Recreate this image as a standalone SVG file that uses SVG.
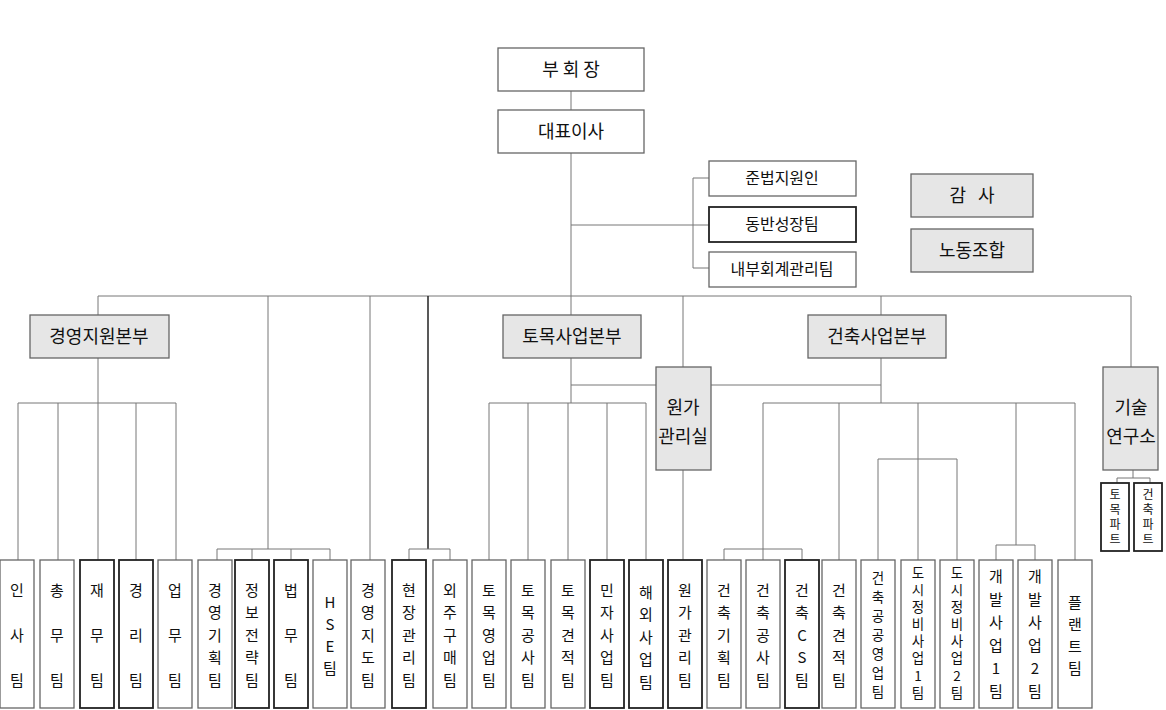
<svg xmlns="http://www.w3.org/2000/svg" width="1166" height="710" viewBox="0 0 1166 710">
<style>
.b{fill:#fff;stroke:#666;stroke-width:1.3}
.k{fill:#fff;stroke:#222;stroke-width:1.8}
.g{fill:#e6e6e6;stroke:#666;stroke-width:1.3}
text{font-family:"Noto Sans CJK KR","Noto Sans",sans-serif;font-size:15px;fill:#111;text-anchor:middle}
.l{font-size:18px}
.m{font-size:16px}
.s{font-size:12px}
.n{font-size:13.5px}
#c line,#c polyline{stroke:#777;stroke-width:1;fill:none}
</style>
<rect width="1166" height="710" fill="#fff"/>
<g id="c">
<line x1="571" y1="91" x2="571" y2="110"/>
<line x1="571" y1="153" x2="571" y2="296"/>
<line x1="571" y1="225" x2="693" y2="225"/>
<polyline points="709,178 693,178 693,268 709,268"/>
<line x1="693" y1="225" x2="709" y2="225"/>
<line x1="98" y1="296" x2="1131" y2="296"/>
<line x1="98" y1="296" x2="98" y2="315"/>
<line x1="268" y1="296" x2="268" y2="549"/>
<line x1="370" y1="296" x2="370" y2="560"/>
<line x1="428" y1="296" x2="428" y2="549" style="stroke:#222;stroke-width:1.5"/>
<line x1="571" y1="296" x2="571" y2="315"/>
<line x1="683" y1="296" x2="683" y2="367"/>
<line x1="881" y1="296" x2="881" y2="315"/>
<line x1="1131" y1="296" x2="1131" y2="367"/>
<line x1="98" y1="358" x2="98" y2="403"/>
<line x1="18" y1="403" x2="176" y2="403"/>
<line x1="18" y1="403" x2="18" y2="560"/><line x1="58" y1="403" x2="58" y2="560"/><line x1="98" y1="403" x2="98" y2="560"/><line x1="136" y1="403" x2="136" y2="560"/><line x1="176" y1="403" x2="176" y2="560"/>
<line x1="217" y1="549" x2="330" y2="549"/>
<line x1="217" y1="549" x2="217" y2="560"/><line x1="252" y1="549" x2="252" y2="560"/><line x1="291" y1="549" x2="291" y2="560"/><line x1="330" y1="549" x2="330" y2="560"/>
<line x1="409" y1="549" x2="450" y2="549"/>
<line x1="409" y1="549" x2="409" y2="560"/><line x1="450" y1="549" x2="450" y2="560"/>
<line x1="571" y1="358" x2="571" y2="403"/>
<line x1="571" y1="385" x2="881" y2="385"/>
<line x1="489" y1="403" x2="646" y2="403"/>
<line x1="489" y1="403" x2="489" y2="560"/><line x1="528" y1="403" x2="528" y2="560"/><line x1="568" y1="403" x2="568" y2="560"/><line x1="607" y1="403" x2="607" y2="560"/><line x1="646" y1="403" x2="646" y2="560"/>
<line x1="683" y1="470" x2="683" y2="560"/>
<line x1="881" y1="358" x2="881" y2="403"/>
<line x1="763" y1="403" x2="1075" y2="403"/>
<line x1="763" y1="403" x2="763" y2="549"/>
<line x1="724" y1="549" x2="802" y2="549"/>
<line x1="724" y1="549" x2="724" y2="560"/><line x1="763" y1="549" x2="763" y2="560"/><line x1="802" y1="549" x2="802" y2="560"/>
<line x1="839" y1="403" x2="839" y2="560"/>
<line x1="918" y1="403" x2="918" y2="560"/>
<line x1="878" y1="459" x2="957" y2="459"/>
<line x1="878" y1="459" x2="878" y2="560"/><line x1="957" y1="459" x2="957" y2="560"/>
<line x1="1016" y1="403" x2="1016" y2="545"/>
<line x1="996" y1="545" x2="1035" y2="545"/>
<line x1="996" y1="545" x2="996" y2="560"/><line x1="1035" y1="545" x2="1035" y2="560"/>
<line x1="1075" y1="403" x2="1075" y2="560"/>
<line x1="1133" y1="470" x2="1133" y2="478"/>
<line x1="1117" y1="478" x2="1150" y2="478"/>
<line x1="1117" y1="478" x2="1117" y2="483"/><line x1="1150" y1="478" x2="1150" y2="483"/>
</g>
<g id="vp"><rect class="b" x="498" y="48" width="146" height="43"/><text class="l" x="571" y="76">부 회 장</text></g>
<g id="ceo"><rect class="b" x="498" y="110" width="146" height="43"/><text class="l" x="571" y="138">대표이사</text></g>
<g id="s1"><rect class="b" x="709" y="161" width="147" height="35"/><text class="m" x="782" y="184">준법지원인</text></g>
<g id="s2"><rect class="k" x="709" y="207" width="147" height="35"/><text class="m" x="782" y="230">동반성장팀</text></g>
<g id="s3"><rect class="b" x="709" y="252" width="147" height="35"/><text class="m" x="782" y="275">내부회계관리팀</text></g>
<g id="audit"><rect class="g" x="911" y="174" width="122" height="43"/><text class="l" x="972" y="202">감 &#160; 사</text></g>
<g id="union"><rect class="g" x="911" y="229" width="122" height="43"/><text class="l" x="972" y="257">노동조합</text></g>
<g id="d1"><rect class="g" x="30" y="315" width="139" height="43"/><text class="l" x="99" y="343">경영지원본부</text></g>
<g id="d2"><rect class="g" x="503" y="315" width="138" height="43"/><text class="l" x="572" y="343">토목사업본부</text></g>
<g id="d3"><rect class="g" x="808" y="315" width="138" height="43"/><text class="l" x="877" y="343">건축사업본부</text></g>
<g id="cost"><rect class="g" x="656" y="367" width="55" height="103"/><text x="683" y="414" class="l"><tspan x="683">원가</tspan><tspan x="683" y="443">관리실</tspan></text></g>
<g id="lab"><rect class="g" x="1103" y="367" width="55" height="103"/><text x="1131" y="414" class="l"><tspan x="1131">기술</tspan><tspan x="1131" y="443">연구소</tspan></text></g>
<g id="p1"><rect class="k" x="1101" y="483" width="28" height="68"/><text class="s" x="1115" y="499"><tspan x="1115">토</tspan><tspan x="1115" y="514">목</tspan><tspan x="1115" y="529">파</tspan><tspan x="1115" y="544">트</tspan></text></g>
<g id="p2"><rect class="k" x="1134" y="483" width="28" height="68"/><text class="s" x="1148" y="499"><tspan x="1148">건</tspan><tspan x="1148" y="514">축</tspan><tspan x="1148" y="529">파</tspan><tspan x="1148" y="544">트</tspan></text></g>
<g id="t1"><rect class="b" x="0" y="560" width="34" height="148"/><text><tspan x="17" y="596">인</tspan><tspan x="17" y="641">사</tspan><tspan x="17" y="686">팀</tspan></text></g>
<g id="t2"><rect class="b" x="40" y="560" width="34" height="148"/><text><tspan x="57" y="596">총</tspan><tspan x="57" y="641">무</tspan><tspan x="57" y="686">팀</tspan></text></g>
<g id="t3"><rect class="k" x="80" y="560" width="34" height="148"/><text><tspan x="97" y="596">재</tspan><tspan x="97" y="641">무</tspan><tspan x="97" y="686">팀</tspan></text></g>
<g id="t4"><rect class="k" x="119" y="560" width="34" height="148"/><text><tspan x="136" y="596">경</tspan><tspan x="136" y="641">리</tspan><tspan x="136" y="686">팀</tspan></text></g>
<g id="t5"><rect class="b" x="158" y="560" width="34" height="148"/><text><tspan x="175" y="596">업</tspan><tspan x="175" y="641">무</tspan><tspan x="175" y="686">팀</tspan></text></g>
<g id="t6"><rect class="b" x="198" y="560" width="34" height="148"/><text><tspan x="215" y="596">경</tspan><tspan x="215" y="618">영</tspan><tspan x="215" y="641">기</tspan><tspan x="215" y="663">획</tspan><tspan x="215" y="686">팀</tspan></text></g>
<g id="t7"><rect class="k" x="235" y="560" width="34" height="148"/><text><tspan x="252" y="596">정</tspan><tspan x="252" y="618">보</tspan><tspan x="252" y="641">전</tspan><tspan x="252" y="663">략</tspan><tspan x="252" y="686">팀</tspan></text></g>
<g id="t8"><rect class="k" x="274" y="560" width="34" height="148"/><text><tspan x="291" y="596">법</tspan><tspan x="291" y="641">무</tspan><tspan x="291" y="686">팀</tspan></text></g>
<g id="t9"><rect class="b" x="313" y="560" width="34" height="148"/><text><tspan x="330" y="608">H</tspan><tspan x="330" y="630">S</tspan><tspan x="330" y="652">E</tspan><tspan x="330" y="674">팀</tspan></text></g>
<g id="t10"><rect class="b" x="351" y="560" width="34" height="148"/><text><tspan x="368" y="596">경</tspan><tspan x="368" y="618">영</tspan><tspan x="368" y="641">지</tspan><tspan x="368" y="663">도</tspan><tspan x="368" y="686">팀</tspan></text></g>
<g id="t11"><rect class="k" x="392" y="560" width="34" height="148"/><text><tspan x="409" y="596">현</tspan><tspan x="409" y="618">장</tspan><tspan x="409" y="641">관</tspan><tspan x="409" y="663">리</tspan><tspan x="409" y="686">팀</tspan></text></g>
<g id="t12"><rect class="b" x="433" y="560" width="34" height="148"/><text><tspan x="450" y="596">외</tspan><tspan x="450" y="618">주</tspan><tspan x="450" y="641">구</tspan><tspan x="450" y="663">매</tspan><tspan x="450" y="686">팀</tspan></text></g>
<g id="t13"><rect class="b" x="472" y="560" width="34" height="148"/><text><tspan x="489" y="596">토</tspan><tspan x="489" y="618">목</tspan><tspan x="489" y="641">영</tspan><tspan x="489" y="663">업</tspan><tspan x="489" y="686">팀</tspan></text></g>
<g id="t14"><rect class="b" x="511" y="560" width="34" height="148"/><text><tspan x="528" y="596">토</tspan><tspan x="528" y="618">목</tspan><tspan x="528" y="641">공</tspan><tspan x="528" y="663">사</tspan><tspan x="528" y="686">팀</tspan></text></g>
<g id="t15"><rect class="b" x="551" y="560" width="34" height="148"/><text><tspan x="568" y="596">토</tspan><tspan x="568" y="618">목</tspan><tspan x="568" y="641">견</tspan><tspan x="568" y="663">적</tspan><tspan x="568" y="686">팀</tspan></text></g>
<g id="t16"><rect class="k" x="590" y="560" width="34" height="148"/><text><tspan x="607" y="596">민</tspan><tspan x="607" y="618">자</tspan><tspan x="607" y="641">사</tspan><tspan x="607" y="663">업</tspan><tspan x="607" y="686">팀</tspan></text></g>
<g id="t17"><rect class="k" x="629" y="560" width="34" height="148"/><text><tspan x="646" y="598">해</tspan><tspan x="646" y="620">외</tspan><tspan x="646" y="643">사</tspan><tspan x="646" y="665">업</tspan><tspan x="646" y="688">팀</tspan></text></g>
<g id="t18"><rect class="k" x="668" y="560" width="34" height="148"/><text><tspan x="685" y="596">원</tspan><tspan x="685" y="618">가</tspan><tspan x="685" y="641">관</tspan><tspan x="685" y="663">리</tspan><tspan x="685" y="686">팀</tspan></text></g>
<g id="t19"><rect class="b" x="707" y="560" width="34" height="148"/><text><tspan x="724" y="596">건</tspan><tspan x="724" y="618">축</tspan><tspan x="724" y="641">기</tspan><tspan x="724" y="663">획</tspan><tspan x="724" y="686">팀</tspan></text></g>
<g id="t20"><rect class="b" x="746" y="560" width="34" height="148"/><text><tspan x="763" y="596">건</tspan><tspan x="763" y="618">축</tspan><tspan x="763" y="641">공</tspan><tspan x="763" y="663">사</tspan><tspan x="763" y="686">팀</tspan></text></g>
<g id="t21"><rect class="k" x="785" y="560" width="34" height="148"/><text><tspan x="802" y="596">건</tspan><tspan x="802" y="618">축</tspan><tspan x="802" y="641">C</tspan><tspan x="802" y="663">S</tspan><tspan x="802" y="686">팀</tspan></text></g>
<g id="t22"><rect class="b" x="822" y="560" width="34" height="148"/><text><tspan x="839" y="596">건</tspan><tspan x="839" y="618">축</tspan><tspan x="839" y="641">견</tspan><tspan x="839" y="663">적</tspan><tspan x="839" y="686">팀</tspan></text></g>
<g id="t23"><rect class="b" x="861" y="560" width="34" height="148"/><text class="n"><tspan x="878" y="583">건</tspan><tspan x="878" y="602">축</tspan><tspan x="878" y="621">공</tspan><tspan x="878" y="640">공</tspan><tspan x="878" y="659">영</tspan><tspan x="878" y="678">업</tspan><tspan x="878" y="697">팀</tspan></text></g>
<g id="t24"><rect class="b" x="901" y="560" width="34" height="148"/><text class="n"><tspan x="918" y="578">도</tspan><tspan x="918" y="595">시</tspan><tspan x="918" y="612">정</tspan><tspan x="918" y="629">비</tspan><tspan x="918" y="646">사</tspan><tspan x="918" y="663">업</tspan><tspan x="918" y="681">1</tspan><tspan x="918" y="698">팀</tspan></text></g>
<g id="t25"><rect class="b" x="940" y="560" width="34" height="148"/><text class="n"><tspan x="957" y="578">도</tspan><tspan x="957" y="595">시</tspan><tspan x="957" y="612">정</tspan><tspan x="957" y="629">비</tspan><tspan x="957" y="646">사</tspan><tspan x="957" y="663">업</tspan><tspan x="957" y="681">2</tspan><tspan x="957" y="698">팀</tspan></text></g>
<g id="t26"><rect class="b" x="979" y="560" width="34" height="148"/><text><tspan x="996" y="582">개</tspan><tspan x="996" y="605">발</tspan><tspan x="996" y="628">사</tspan><tspan x="996" y="651">업</tspan><tspan x="996" y="674">1</tspan><tspan x="996" y="697">팀</tspan></text></g>
<g id="t27"><rect class="b" x="1018" y="560" width="34" height="148"/><text><tspan x="1035" y="582">개</tspan><tspan x="1035" y="605">발</tspan><tspan x="1035" y="628">사</tspan><tspan x="1035" y="651">업</tspan><tspan x="1035" y="674">2</tspan><tspan x="1035" y="697">팀</tspan></text></g>
<g id="t28"><rect class="b" x="1058" y="560" width="34" height="148"/><text><tspan x="1075" y="608">플</tspan><tspan x="1075" y="630">랜</tspan><tspan x="1075" y="652">트</tspan><tspan x="1075" y="674">팀</tspan></text></g>
</svg>
